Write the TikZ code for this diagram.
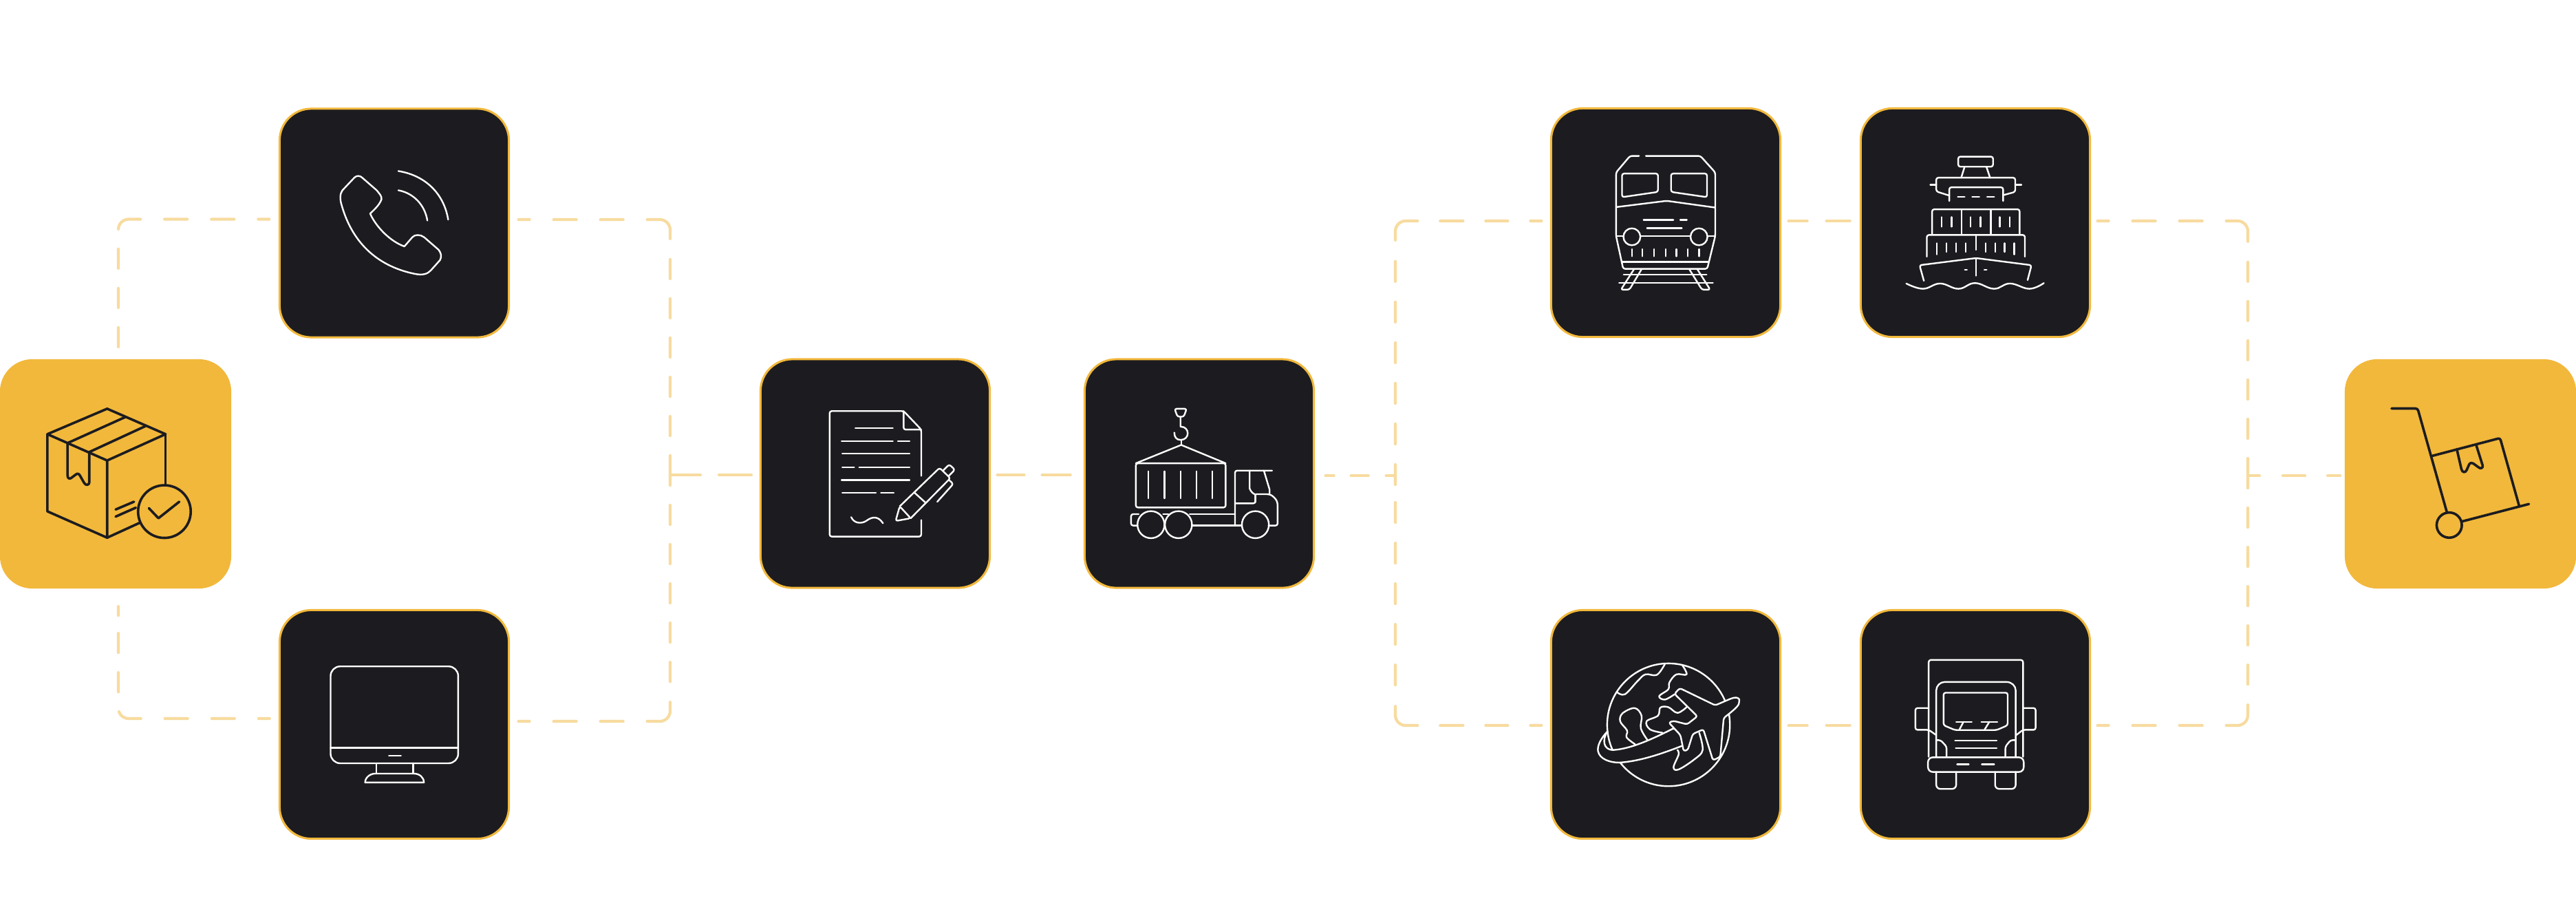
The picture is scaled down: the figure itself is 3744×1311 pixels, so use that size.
\documentclass[tikz,border=0pt]{standalone}
\definecolor{gold}{HTML}{F2B83B}
\definecolor{ink}{HTML}{1C1C20}
\definecolor{dashc}{HTML}{F7DB9F}
\tikzset{
 darkbox/.style={draw=gold,fill=ink,line width=.03cm,rounded corners=.46cm,minimum width=3.33cm,minimum height=3.32cm,inner sep=0pt,outer sep=0pt},
 goldbox/.style={fill=gold,rounded corners=.47cm,minimum width=3.36cm,minimum height=3.33cm,inner sep=0pt,outer sep=0pt},
 conn/.style={draw=dashc,line width=.042cm,line cap=round,rounded corners=.15cm},
 zm/.style n args={4}{shift={(#1,#2)},x=#3,y=#4},
 z3/.style 2 args={zm={#1}{#2}{.003333cm}{-.003333cm}},
 zw/.style 2 args={zm={#1}{#2}{.003827cm}{-.003333cm}},
 wline/.style={draw=white,line width=.024cm,line cap=round,line join=round},
 kline/.style={draw=ink,line width=.036cm,line cap=round,line join=round},
 vp/.style={rounded corners=.03cm},
 hdashes/.style={dash pattern=on .16cm off .35cm on .33cm off .35cm on .33cm off .35cm on .546cm off .30cm on .28cm off .29cm on .28cm off .29cm on .28cm off .29cm on .28cm off .29cm on .28cm off .29cm on .28cm off 1cm},
 rdashes/.style={dash pattern=on .16cm off .33cm on .32cm off .33cm on .33cm off .33cm on .536cm off .31cm on .29cm off .30cm on .29cm off .30cm on .29cm off .30cm on .29cm off .30cm on .29cm off .30cm on .29cm off 1cm}
}
\begin{document}
\begin{tikzpicture}[x=.01cm,y=-.01cm]
\path[use as bounding box,fill=white] (0,0) rectangle (3744,1311);
% coordinates of the frames
\coordinate (c1) at (172,318.5);
\coordinate (c2) at (172,1044);
\coordinate (c3) at (974,319);
\coordinate (c4) at (974,1048);
\coordinate (jl) at (974,690);
\coordinate (jm) at (2028,691);
\coordinate (jmb) at (2028,706);
\coordinate (c5) at (2028,321);
\coordinate (c6) at (2028,1054);
\coordinate (c7) at (3267,321);
\coordinate (c8) at (3267,1054);
\coordinate (jr) at (3267,691);
\coordinate (jrb) at (3267,706);
% nodes
\node[goldbox] (start) at (168,688.5) {};
\node[darkbox] (phone) at (573,324) {};
\node[darkbox] (screen) at (573,1052.5) {};
\node[darkbox] (doc) at (1272,688) {};
\node[darkbox] (crane) at (1743,688) {};
\node[darkbox] (train) at (2421,323.5) {};
\node[darkbox] (ship) at (2871,323.5) {};
\node[darkbox] (globe) at (2421,1052.5) {};
\node[darkbox] (truck) at (2871,1052.5) {};
\node[goldbox] (end) at (3576,688.5) {};
% connectors
\draw[conn,shorten <=.18cm,dash pattern=on .28cm off .29cm on .28cm off .29cm on .28cm off .29cm on .40cm off .35cm on .33cm off .35cm on .33cm off .35cm on .16cm off 1cm]
 (start.north -| c1) -- (c1) -- (phone.west |- c1);
\draw[conn,shorten <=.26cm,dash pattern=on .13cm off .26cm on .28cm off .29cm on .28cm off .29cm on .36cm off .35cm on .33cm off .35cm on .33cm off .35cm on .16cm off 1cm]
 (start.south -| c2) -- (c2) -- (screen.west |- c2);
\draw[conn,shorten <=.14cm,hdashes] (phone.east |- c3) -- (c3) -- (jl);
\draw[conn,shorten <=.14cm,hdashes] (screen.east |- c4) -- (c4) -- (jl);
\draw[conn,dash pattern=on .44cm off .27cm on .47cm off 1cm] (jl) -- (doc.west |- jl);
\draw[conn,shorten <=.11cm,dash pattern=on .39cm off .26cm on .41cm off 1cm] (doc.east |- jl) -- (crane.west |- jl);
\draw[conn,shorten <=.17cm,dash pattern=on .12cm off .25cm on .25cm off .26cm on .14cm off 1cm] (crane.east |- jm) -- (jm);
\draw[conn,shorten <=.14cm,rdashes] (train.west |- c5) -- (c5) -- (jmb);
\draw[conn,shorten <=.14cm,rdashes] (globe.west |- c6) -- (c6) -- (jm);
\draw[conn,shorten <=.12cm,dash pattern=on .27cm off .28cm on .34cm off 1cm] (train.east) ++(0,-2.5) -- (ship.west |- c5);
\draw[conn,shorten <=.12cm,dash pattern=on .27cm off .28cm on .34cm off 1cm] (globe.east) ++(0,1.5) -- (truck.west |- c6);
\draw[conn,shorten <=.11cm,hdashes] (ship.east |- c7) -- (c7) -- (jrb);
\draw[conn,shorten <=.11cm,hdashes] (truck.east |- c8) -- (c8) -- (jr);
\draw[conn,dash pattern=on .17cm off .34cm on .32cm off .33cm on .18cm off 1cm] (jr) -- (end.west |- jr);
% start icon
\begin{scope}[z3={0}{500},kline]
\draw (207,393) -- (468,282) -- (723,393) -- (468,508) -- cycle;
\draw (207,393) -- (207,730) -- (468,845) -- (468,508);
\draw (723,393) -- (723,615);
\draw (468,845) -- (610,780);
\draw (295,432) -- (548,318);
\draw (388,472) -- (635,358);
\draw (295,432) -- (295,572) .. controls (295,585) and (302,590) .. (310,585) -- (330,570) .. controls (338,563) and (345,565) .. (350,575) -- (367,605) .. controls (375,620) and (390,615) .. (390,603) -- (390,472);
\draw (505,722) -- (585,688);
\draw (505,753) -- (593,714);
\draw (718,731) circle[radius=115];
\draw (650,716) -- (692,760) -- (783,688);
\end{scope}
% phone icon
\begin{scope}[zw={400}{150},wline]
\draw (300,325) -- (255,380) .. controls (245,395) and (245,420) .. (252,445) .. controls (290,600) and (380,710) .. (530,745) .. controls (560,752) and (578,745) .. (590,730) -- (625,685) .. controls (632,670) and (630,655) .. (620,640) -- (565,585) .. controls (550,572) and (530,572) .. (520,585) -- (490,625) .. controls (440,605) and (385,545) .. (360,482) .. controls (375,465) and (395,445) .. (403,420) .. controls (405,405) and (395,395) .. (385,380) -- (330,325) .. controls (322,315) and (308,315) .. (300,325) -- cycle;
\draw (467,296) .. controls (570,315) and (640,395) .. (656,508);
\draw (467,380) .. controls (525,392) and (568,445) .. (577,512);
\end{scope}
% screen icon
\begin{scope}[zw={400}{880},wline]
\draw[rounded corners=.14cm] (210,265) rectangle (694,688);
\draw (210,621) -- (694,621);
\draw (431,655) -- (477,655);
\draw (383,688) -- (383,733);
\draw (523,688) -- (523,733);
\draw (341,772) .. controls (341,750) and (360,733) .. (380,733) -- (525,733) .. controls (548,733) and (564,750) .. (564,772) -- cycle;
\end{scope}
% document icon
\begin{scope}[z3={1100}{520},wline]
\draw[vp] (718,515) -- (718,313) -- (641,232) -- (318,232) -- (318,780) -- (718,780) -- (718,708);
\draw[vp] (641,232) -- (641,313) -- (718,313);
\draw (430,307) -- (594,307);
\draw (370,363) -- (594,363);
\draw (616,363) -- (667,363);
\draw (373,418) -- (667,418);
\draw (373,477) -- (425,477);
\draw (447,477) -- (667,477);
\draw (370,533) -- (667,533);
\draw (373,588) -- (520,588);
\draw (542,588) -- (598,588);
\draw (412,695) .. controls (425,725) and (460,725) .. (480,710) .. controls (505,692) and (530,690) .. (551,722);
\draw[vp] (624,648) -- (798,480) -- (845,525) -- (672,700);
\draw[vp] (624,648) -- (606,712) -- (672,700) -- cycle;
\draw (688,588) -- (738,633);
\draw[vp] (815,490) -- (840,465) -- (865,488) -- (838,515);
\draw[vp] (838,532) -- (858,550) -- (788,628);
\end{scope}
% crane icon
\begin{scope}[z3={1570}{520},wline]
\draw[vp] (412,222) -- (465,222) -- (452,257) -- (425,257) -- cycle;
\draw (438,257) -- (438,300) .. controls (480,300) and (480,358) .. (438,358) .. controls (420,358) and (411,345) .. (411,326);
\draw (441,358) -- (441,380);
\draw (243,460) -- (441,380) -- (635,460);
\draw[vp] (243,460) rectangle (635,653);
\foreach \bx in {298,368,438,507,577} \draw (\bx,495) -- (\bx,613);
\draw[vp] (250,732) -- (222,732) -- (222,682) -- (255,682);
\draw (362,682) -- (385,682);
\draw (478,682) -- (676,682);
\draw (488,732) -- (706,732);
\draw[vp] (822,732) -- (862,732) -- (862,635) .. controls (855,615) and (840,602) .. (825,595) -- (767,595);
\draw[vp] (676,732) -- (676,492) -- (838,492);
\draw (740,492) -- (740,570) .. controls (745,585) and (755,592) .. (765,597) -- (765,630);
\draw[vp] (765,600) -- (765,635) -- (676,635);
\draw (802,492) -- (827,575) -- (827,595);
\draw (309,728) circle[radius=59];
\draw (429,728) circle[radius=59];
\draw (765,728) circle[radius=59];
\end{scope}
% train icon
\begin{scope}[z3={2250}{155},wline]
\draw[vp] (397,215) -- (358,215) -- (297,287) -- (297,565) -- (328,708) -- (695,708) -- (730,565) -- (730,287) -- (665,215) -- (427,215);
\draw[vp] (323,292) -- (480,292) -- (480,372) -- (323,395) -- cycle;
\draw[vp] (537,292) -- (694,292) -- (694,395) -- (537,372) -- cycle;
\draw (300,438) -- (510,412) -- (525,412) -- (727,440);
\draw (417,494) -- (547,494);
\draw (577,494) -- (606,494);
\draw (432,530) -- (584,530);
\draw (366,568) circle[radius=37];
\draw (659,568) circle[radius=37];
\draw (297,565) -- (329,565);
\draw (403,565) -- (622,565);
\draw (696,565) -- (730,565);
\foreach \bx in {366,412,463,513,560,610,660} \draw (\bx,622) -- (\bx,653);
\draw (325,678) -- (698,678);
\draw[vp] (375,710) -- (318,799) -- (355,799) -- (408,710);
\draw[vp] (617,710) -- (672,799) -- (708,799) -- (652,710);
\draw (330,733) -- (692,733);
\draw (310,769) -- (720,769);
\end{scope}
% ship icon
\begin{scope}[z3={2700}{155},wline]
\draw[vp] (439,218) rectangle (591,262);
\draw (467,262) -- (452,310);
\draw (562,262) -- (578,310);
\draw[vp] (400,388) -- (343,370) -- (343,310) -- (688,310) -- (688,372) -- (636,386);
\draw (317,341) -- (343,341);
\draw (688,341) -- (715,341);
\draw[vp] (400,412) -- (400,352) -- (635,352) -- (635,412);
\draw (437,394) -- (467,394);
\draw (500,394) -- (531,394);
\draw (565,394) -- (596,394);
\draw[vp] (325,555) -- (325,448) -- (707,448) -- (707,555);
\draw (453,448) -- (453,555);
\draw (581,448) -- (581,555);
\foreach \bx in {366,410,492,536,620,664} \draw (\bx,482) -- (\bx,524);
\draw[vp] (302,655) -- (302,560) -- (730,560) -- (730,655);
\draw (517,560) -- (517,625);
\draw (346,596) -- (346,645);
\draw (684,596) -- (684,645);
\foreach \bx in {388,430,472,558,600,642} \draw (\bx,596) -- (\bx,634);
\draw[vp] (289,760) -- (270,692) -- (517,661) -- (759,692) -- (742,757);
\draw (517,661) -- (517,738);
\draw (468,712) -- (477,712);
\draw (553,712) -- (563,712);
\draw plot[smooth,tension=.7] coordinates {(212,772) (285,795) (360,772) (440,795) (512,770) (595,795) (665,772) (750,795) (813,770)};
\end{scope}
% globe icon
\begin{scope}[z3={2250}{885},wline]
\draw (526,505) circle[radius=268];
\draw plot[smooth,tension=.6] coordinates {(300,362) (335,372) (390,315) (425,285) (475,287) (510,240)};
\draw plot[smooth,tension=.6] coordinates {(585,243) (605,285) (560,285) (530,320) (525,350) (485,380) (510,395) (552,372)};
\draw plot[smooth,tension=.6] coordinates {(380,590) (343,560) (345,530) (315,490) (325,455) (378,432) (408,465) (405,520) (433,570)};
\draw plot[smooth,tension=.6] coordinates {(500,540) (445,525) (430,490) (480,465) (490,430) (525,428) (565,453) (605,428)};
\draw plot[smooth,tension=.6] coordinates {(565,615) (570,635) (548,690) (570,700) (640,655) (675,615) (660,540)};
\filldraw[fill=ink] (260,533) .. controls (225,570) and (215,600) .. (218,620) .. controls (225,655) and (270,670) .. (310,670) .. controls (400,665) and (500,630) .. (585,597) -- (610,585) -- (575,525) -- (545,522) .. controls (450,570) and (360,610) .. (285,615) .. controls (240,615) and (235,570) .. (260,533);
\filldraw[fill=ink,vp] (552,370) -- (575,345) -- (730,420) -- (800,390) .. controls (825,383) and (835,390) .. (835,405) .. controls (830,425) and (800,450) .. (767,475) -- (752,645) -- (720,660) -- (678,525) -- (632,545) -- (610,615) -- (592,620) -- (578,550) -- (527,495) -- (548,488) -- (607,503) -- (652,468) -- cycle;
\end{scope}
% truck icon
\begin{scope}[z3={2700}{885},wline]
\draw[vp] (310,645) -- (310,222) -- (722,222) -- (722,645);
\draw (343,645) -- (343,355) .. controls (343,335) and (360,318) .. (380,318) -- (650,318) .. controls (672,318) and (690,335) .. (690,355) -- (690,645);
\draw[vp] (375,365) -- (655,365) -- (655,507) -- (607,528) -- (425,528) -- (375,507) -- cycle;
\draw (430,492) -- (498,492);
\draw (462,492) -- (443,528);
\draw (540,492) -- (610,492);
\draw (575,492) -- (553,528);
\draw[vp] (310,432) -- (252,432) -- (252,527) -- (310,527) -- (343,550);
\draw[vp] (722,432) -- (777,432) -- (777,527) -- (722,527) -- (692,550);
\draw (425,574) -- (607,574);
\draw (428,607) -- (607,607);
\draw[vp] (343,572) -- (362,572) -- (388,600) -- (388,645);
\draw[vp] (690,572) -- (668,572) -- (645,600) -- (645,645);
\draw[rounded corners=.07cm] (307,647) rectangle (725,711);
\draw (434,678) -- (485,678);
\draw (542,678) -- (596,678);
\draw[rounded corners=.06cm] (343,711) -- (343,785) -- (430,785) -- (430,711);
\draw[rounded corners=.06cm] (600,711) -- (600,785) -- (690,785) -- (690,711);
\end{scope}
% end icon
\begin{scope}[z3={3400}{510},kline]
\draw[vp] (228,251) -- (342,251) -- (470,705);
\draw[vp] (405,458) -- (702,380) -- (785,675);
\draw (536,744) -- (828,668);
\draw (480,760) circle[radius=55];
\draw (513,428) -- (533,515) .. controls (537,532) and (550,532) .. (556,520) -- (567,495) .. controls (572,487) and (580,487) .. (585,491) -- (607,507) .. controls (618,517) and (628,510) .. (626,500) -- (597,408);
\end{scope}
\end{tikzpicture}
\end{document}
